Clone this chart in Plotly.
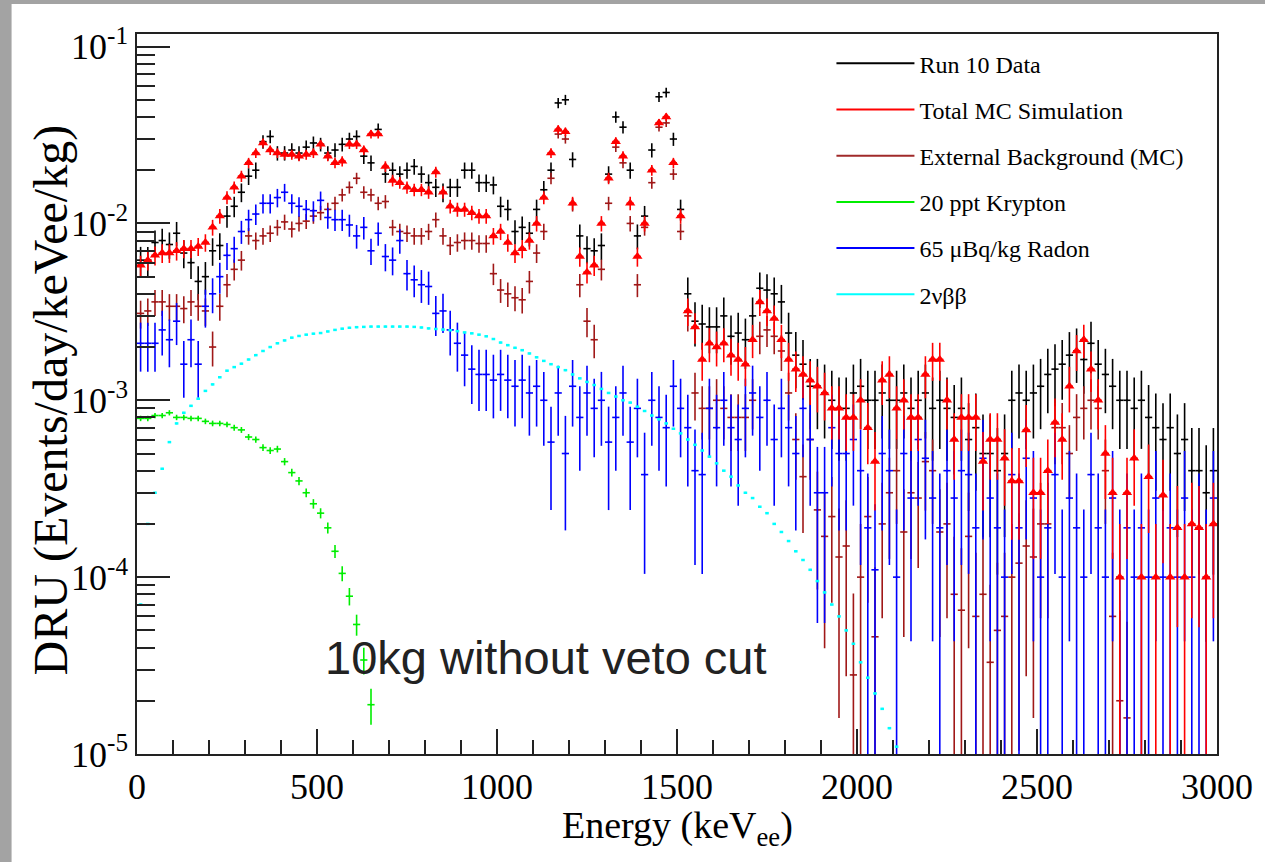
import plotly.graph_objects as go

# ---------------- data (20 keV bins, centres 10 ... 2990 keV) ----------------
E = [10 + 20 * i for i in range(150)]

run10 = [
    0.0062, 0.0062, 0.0078, 0.0080, 0.0076,
    0.0088, 0.0068, 0.0060, 0.0047, 0.0050,
    0.0070, 0.0075, 0.0110, 0.0125, 0.0150,
    0.0185, 0.0200, 0.0290, 0.0310, 0.0250,
    0.0250, 0.0260, 0.0250, 0.0270, 0.0285,
    0.0280, 0.0250, 0.0260, 0.0280, 0.0300,
    0.0310, 0.0240, 0.0220, 0.0340, 0.0190,
    0.0200, 0.0190, 0.0200, 0.0210, 0.0190,
    0.0170, 0.0160, 0.0150, 0.0160, 0.0160,
    0.0200, 0.0200, 0.0170, 0.0170, 0.0165,
    0.0125, 0.0120, 0.0090, 0.0095, 0.0088,
    0.0120, 0.0155, 0.0200, 0.0480, 0.0500,
    0.0230, 0.0085, 0.0072, 0.0070, 0.0075,
    0.0190, 0.0400, 0.0350, 0.0200, 0.0085,
    0.0110, 0.0260, 0.0520, 0.0550, 0.0300,
    0.0120, 0.0040, 0.0028, 0.0027, 0.0026,
    0.0026, 0.0030, 0.0023, 0.0024, 0.0022,
    0.0030, 0.0043, 0.0042, 0.0040, 0.0036,
    0.0024, 0.0018, 0.0016, 0.0012, 0.0012,
    0.0011, 0.0010, 0.0009, 0.0009, 0.0011,
    0.0012, 0.0010, 0.0010, 0.0011, 0.0010,
    0.0010, 0.0011, 0.0009, 0.0010, 0.0011,
    0.0009, 0.0010, 0.0009, 0.0008, 0.0009,
    0.0006, 0.0007, 0.0005, 0.0005, 0.0004,
    0.0005, 0.0010, 0.0011, 0.0010, 0.0011,
    0.0012, 0.0014, 0.0015, 0.0016, 0.0018,
    0.0019, 0.0017, 0.0021, 0.0016, 0.0014,
    0.0012, 0.0010, 0.0010, 0.0009, 0.0010,
    0.0008, 0.0007, 0.0006, 0.0007, 0.0005,
    0.0006, 0.0004, 0.0004, 0.0003, 0.0004,
]

total_mc = [
    0.0058, 0.0062, 0.0066, 0.0068, 0.0068,
    0.0070, 0.0072, 0.0072, 0.0074, 0.0078,
    0.0095, 0.0110, 0.0140, 0.0160, 0.0185,
    0.0220, 0.0250, 0.0285, 0.0260, 0.0250,
    0.0245, 0.0245, 0.0240, 0.0245, 0.0250,
    0.0280, 0.0240, 0.0220, 0.0225, 0.0280,
    0.0280, 0.0260, 0.0320, 0.0320, 0.0210,
    0.0175, 0.0170, 0.0160, 0.0155, 0.0155,
    0.0150, 0.0195, 0.0150, 0.0125, 0.0120,
    0.0120, 0.0115, 0.0110, 0.0110, 0.0085,
    0.0090, 0.0078, 0.0068, 0.0072, 0.0080,
    0.0100, 0.0140, 0.0250, 0.0340, 0.0330,
    0.0130, 0.0065, 0.0053, 0.0058, 0.0100,
    0.0180, 0.0290, 0.0240, 0.0130, 0.0065,
    0.0100, 0.0200, 0.0370, 0.0400, 0.0220,
    0.0110, 0.0032, 0.0026, 0.0017, 0.0021,
    0.0020, 0.0021, 0.0018, 0.0017, 0.0016,
    0.0022, 0.0036, 0.0032, 0.0029, 0.0022,
    0.0017, 0.0015, 0.0014, 0.0013, 0.0012,
    0.0011, 0.0009, 0.0009, 0.0008, 0.0008,
    0.0010, 0.0007, 0.00045, 0.0013, 0.0014,
    0.0009, 0.0010, 0.0008, 0.0008, 0.0014,
    0.0017, 0.0017, 0.0010, 0.0006, 0.0008,
    0.0008, 0.0008, 0.00045, 0.0006, 0.0006,
    0.00047, 0.00035, 0.00035, 0.00068, 0.0003,
    0.0003, 0.0004, 0.00075, 0.0006, 0.0012,
    0.0019, 0.0022, 0.0015, 0.0010, 0.0005,
    0.0003, 0.0001, 0.0003, 0.00047, 0.0001,
    0.00037, 0.0001, 0.00029, 0.0001, 0.00019,
    0.0001, 0.0002, 0.00019, 0.0001, 0.0002,
]

external_bg = [
    0.0031, 0.0032, 0.0036, 0.0036, 0.0034,
    0.0034, 0.0033, 0.0036, 0.0034, 0.0032,
    0.0020, 0.0034, 0.0045, 0.0055, 0.0062,
    0.0085, 0.0080, 0.0085, 0.0088, 0.0095,
    0.0102, 0.0093, 0.0100, 0.0103, 0.0110,
    0.0115, 0.0120, 0.0130, 0.0145, 0.0160,
    0.0180, 0.0150, 0.0145, 0.0130, 0.0133,
    0.0095, 0.0090, 0.0088, 0.0085, 0.0085,
    0.0090, 0.0105, 0.0085, 0.0075, 0.0078,
    0.0080, 0.0080, 0.0077, 0.0077, 0.0052,
    0.0042, 0.0040, 0.0038, 0.0037, 0.0047,
    0.0068, 0.0090, 0.0180, 0.0320, 0.0300,
    0.0128, 0.0045, 0.0028, 0.0022, 0.0055,
    0.0130, 0.0270, 0.0220, 0.0100, 0.0045,
    0.0095, 0.0170, 0.0350, 0.0370, 0.0190,
    0.0090, 0.0030, 0.0011, 0.0009, 0.0009,
    0.0010, 0.0009, 0.0008, 0.0008, 0.0008,
    0.0010, 0.0023, 0.0025, 0.0023, 0.0019,
    0.0011, 0.0006, 0.00037, 0.0006, 0.00024,
    0.00017, 0.00022, 0.00013, 0.00015, 0.000028,
    0.0001, 0.00022, 0.000046, 0.0002, 0.0003,
    0.0004, 0.00018, 0.0003, 0.00028, 0.00045,
    0.0004, 0.00018, 0.0002, 0.00008, 0.000065,
    0.00017, 0.00006, 0.00008, 0.000033, 0.00005,
    0.00006, 0.0001, 0.00012, 0.00015, 0.00013,
    0.0002, 0.0002, 0.0007, 0.0007, 0.0005,
    0.0008, 0.0009, 0.0010, 0.0009, 0.0004,
    0.00006, 0.00002, 0.000016, None, None,
    None, None, None, None, None,
    None, None, None, None, None,
]

radon = [
    0.0021, 0.0021, 0.0021, 0.0025, 0.0022,
    0.0028, 0.0016, 0.0022, 0.0016, 0.0034,
    0.0040, 0.0050, 0.0066, 0.0072, 0.0090,
    0.0105, 0.0113, 0.0130, 0.0130, 0.0140,
    0.0150, 0.0130, 0.0125, 0.0120, 0.0118,
    0.0135, 0.0108, 0.0105, 0.0105, 0.0098,
    0.0085, 0.0095, 0.0070, 0.0088, 0.0065,
    0.0062, 0.0080, 0.0052, 0.0048, 0.0045,
    0.0044, 0.0031, 0.0032, 0.0025, 0.0021,
    0.0018, 0.0015, 0.0014, 0.0014, 0.0013,
    0.0014, 0.0013, 0.0012, 0.0013, 0.0011,
    0.0012, 0.0010, 0.00058, 0.0011, 0.0005,
    0.0012, 0.0008, 0.0011, 0.0009, 0.0010,
    0.00058, 0.0008, 0.0011, 0.00058, 0.0009,
    0.00038, 0.0010, 0.0008, 0.0007, 0.0012,
    0.0009, 0.0007, 0.0004, 0.00038, 0.0009,
    0.0007, 0.0010, 0.0007, 0.0006, 0.0009,
    0.0011, 0.0008, 0.0010, 0.0006, 0.0009,
    0.0007, 0.0005, 0.0009, 0.0006, 0.0003,
    0.0003, 0.0007, 0.0005, 0.0005, 0.0006,
    0.0004, 0.00019, 0.00011, 0.0005, 0.0004,
    0.0001, 0.0005, 0.00028, 0.0006, 0.00047,
    0.00028, 0.00019, 0.0004, 0.00028, 0.0004,
    0.00038, 0.00019, 0.00047, 0.00028, 0.00019,
    0.0001, 0.00038, 0.00019, 0.00047, 0.00028,
    0.0001, 0.00019, 0.00038, 0.0001, 0.00028,
    0.00019, 0.0001, 0.00038, 0.00019, 0.0001,
    0.00028, 0.0001, 0.00019, 0.0001, 0.00019,
    0.0001, 0.00028, 0.0001, 0.00019, 0.0001,
    0.00028, 0.0001, 0.00019, 0.0001, 0.00028,
]

# 2vbb spectrum, 20 keV bins 10 ... 2110 keV
E_2vbb = [10 + 20 * i for i in range(106)]
two_nu_bb = [
    7.0e-5, 2.0e-4, 3.0e-4, 4.1e-4, 5.8e-4,
    7.4e-4, 8.5e-4, 9.3e-4, 1.02e-3, 1.13e-3,
    1.23e-3, 1.35e-3, 1.47e-3, 1.54e-3, 1.61e-3,
    1.70e-3, 1.80e-3, 1.90e-3, 2.00e-3, 2.10e-3,
    2.18e-3, 2.26e-3, 2.31e-3, 2.35e-3, 2.38e-3,
    2.40e-3, 2.45e-3, 2.50e-3, 2.54e-3, 2.57e-3,
    2.59e-3, 2.60e-3, 2.61e-3, 2.61e-3, 2.61e-3,
    2.61e-3, 2.61e-3, 2.61e-3, 2.60e-3, 2.58e-3,
    2.55e-3, 2.53e-3, 2.51e-3, 2.49e-3, 2.46e-3,
    2.42e-3, 2.39e-3, 2.35e-3, 2.30e-3, 2.22e-3,
    2.12e-3, 2.05e-3, 1.98e-3, 1.92e-3, 1.84e-3,
    1.75e-3, 1.67e-3, 1.60e-3, 1.54e-3, 1.48e-3,
    1.40e-3, 1.33e-3, 1.27e-3, 1.22e-3, 1.16e-3,
    1.10e-3, 1.05e-3, 1.00e-3, 0.97e-3, 0.92e-3,
    0.87e-3, 0.82e-3, 0.78e-3, 0.74e-3, 0.69e-3,
    0.65e-3, 0.60e-3, 0.56e-3, 0.52e-3, 0.48e-3,
    0.44e-3, 0.40e-3, 0.37e-3, 0.33e-3, 0.30e-3,
    0.28e-3, 0.25e-3, 0.23e-3, 0.20e-3, 0.18e-3,
    0.16e-3, 0.14e-3, 0.125e-3, 0.110e-3, 0.095e-3,
    0.082e-3, 0.070e-3, 0.060e-3, 0.050e-3, 0.042e-3,
    0.033e-3, 0.027e-3, 0.022e-3, 0.018e-3, 0.014e-3,
    0.011e-3,
]

# Krypton, 20 keV bins 10 ... 650 keV
E_kr = [10 + 20 * i for i in range(33)]
krypton = [
    7.9e-4, 7.9e-4, 8.2e-4, 8.2e-4, 8.5e-4,
    8.0e-4, 8.0e-4, 7.9e-4, 7.9e-4, 7.6e-4,
    7.4e-4, 7.4e-4, 7.3e-4, 7.0e-4, 6.8e-4,
    6.2e-4, 6.0e-4, 5.4e-4, 5.2e-4, 5.3e-4,
    4.5e-4, 3.9e-4, 3.5e-4, 3.0e-4, 2.6e-4,
    2.3e-4, 1.9e-4, 1.4e-4, 1.05e-4, 7.8e-5,
    5.4e-5, 3.4e-5, 1.9e-5,
]

BIN_HALF = 10  # keV

# counting-statistics weight per series (events/day/keV/kg per count)
W_DATA, W_MC, W_EXT, W_RN, W_KR = 2.2e-4, 1.0e-4, 1.0e-4, 2.0e-4, 1.0e-6


def poisson_err(vals, w):
    up, dn = [], []
    for v in vals:
        if v is None:
            up.append(0)
            dn.append(0)
        else:
            e = (v * w) ** 0.5
            up.append(e)
            dn.append(min(e, v * 0.999))
    return up, dn


SERIF = "Liberation Serif"
C_DATA, C_MC, C_EXT, C_KR, C_RN, C_BB = "#000000", "#ff0000", "#a01818", "#00ee00", "#0000ff", "#00ffff"

fig = go.Figure()


def add_hist(x, y, w, color, size=2, symbol="circle", xerr=BIN_HALF, thick=1.6):
    up, dn = poisson_err(y, w)
    fig.add_trace(go.Scatter(
        x=x, y=y, mode="markers", showlegend=False, hoverinfo="x+y",
        marker=dict(color=color, size=size, symbol=symbol, line=dict(width=0)),
        error_y=dict(type="data", array=up, arrayminus=dn, symmetric=False,
                     color=color, thickness=thick, width=0),
        error_x=dict(type="constant", value=xerr, color=color, thickness=thick, width=0),
    ))


add_hist(E, run10, W_DATA, C_DATA)
add_hist(E, external_bg, W_EXT, C_EXT)
add_hist(E, radon, W_RN, C_RN)
add_hist(E_kr, krypton, W_KR, C_KR)
add_hist(E, total_mc, W_MC, C_MC, size=9, symbol="triangle-up")

fig.add_trace(go.Scatter(
    x=E_2vbb, y=two_nu_bb, mode="markers", showlegend=False,
    marker=dict(color=C_BB, size=2),
    error_x=dict(type="constant", value=5, color=C_BB, thickness=2.5, width=0),
))

# legend entries (line samples as in the original)
legend_items = [
    ("Run 10 Data", C_DATA),
    ("Total MC Simulation", C_MC),
    ("External Background (MC)", "#a02a2a"),
    ("20 ppt Krypton", C_KR),
    ("65 \u03bcBq/kg Radon", C_RN),
    ("2\u03bd\u03b2\u03b2", C_BB),
]
for i, (name, col) in enumerate(legend_items):
    fig.add_trace(go.Scatter(x=[None], y=[None], mode="lines", name=name,
                             legendgroup=f"g{i}", line=dict(color=col, width=2)))

y_major = [1e-5, 1e-4, 1e-3, 1e-2, 1e-1]
y_major_text = ["10<sup>-5</sup>", "10<sup>-4</sup>", "10<sup>-3</sup>",
                "10<sup>-2</sup>", "10<sup>-1</sup>"]
y_minor = [m * 10 ** e for e in range(-5, -1) for m in range(2, 10)]

fig.update_xaxes(
    range=[0, 3000], showgrid=False, zeroline=False,
    showline=True, mirror=True, linecolor="#222", linewidth=1.5,
    ticks="inside", ticklen=25, tickwidth=1.5, tickcolor="#222",
    tickvals=[0, 500, 1000, 1500, 2000, 2500, 3000],
    minor=dict(ticks="inside", ticklen=14, tickwidth=1.5, tickcolor="#222", dtick=100, showgrid=False),
    tickfont=dict(family=SERIF, size=36, color="black"),
)
fig.update_yaxes(
    type="log", range=[-5, -0.929], showgrid=False, zeroline=False,
    showline=True, mirror=True, linecolor="#222", linewidth=1.5,
    ticks="inside", ticklen=33, tickwidth=1.5, tickcolor="#222",
    tickvals=y_major, ticktext=y_major_text,
    minor=dict(ticks="inside", ticklen=18, tickwidth=1.5, tickcolor="#222", tickvals=y_minor, showgrid=False),
    tickfont=dict(family=SERIF, size=36, color="black"),
)

# axis titles placed as text to match the original positions
fig.add_annotation(x=(51 - 137) / 1085, y=(754 - 400) / 720, xref="paper", yref="paper",
                   text="DRU (Events/day/keVee/kg)", textangle=-90, showarrow=False,
                   xanchor="center", yanchor="middle",
                   font=dict(family=SERIF, size=48, color="black"))
fig.add_annotation(x=0.5, y=(754 - 802) / 720, xref="paper", yref="paper",
                   text="Energy (keV<sub>ee</sub>)", showarrow=False,
                   xanchor="center", yanchor="top",
                   font=dict(family=SERIF, size=38, color="black"))

fig.add_annotation(x=1136, y=-4.456, xref="x", yref="y", text="10kg without veto cut",
                   showarrow=False, xanchor="center", yanchor="middle",
                   font=dict(family="Liberation Sans", size=47, color="#222222"))

# slide background visible at the top and left edges
fig.add_shape(type="rect", xref="paper", yref="paper", layer="below",
              x0=(11 - 137) / 1085, x1=1.2, y0=-0.3, y1=(754 - 4) / 720,
              fillcolor="white", line=dict(width=0))

fig.update_layout(
    width=1265, height=862,
    margin=dict(l=137, r=43, t=34, b=108),
    paper_bgcolor="#a3a3a3", plot_bgcolor="white",
    legend=dict(x=0.643, y=0.99, xanchor="left", yanchor="top",
                font=dict(family=SERIF, size=24, color="black"),
                bgcolor="rgba(0,0,0,0)", itemwidth=78, tracegroupgap=12,
                traceorder="grouped"),
)

fig.write_html("out.html")
